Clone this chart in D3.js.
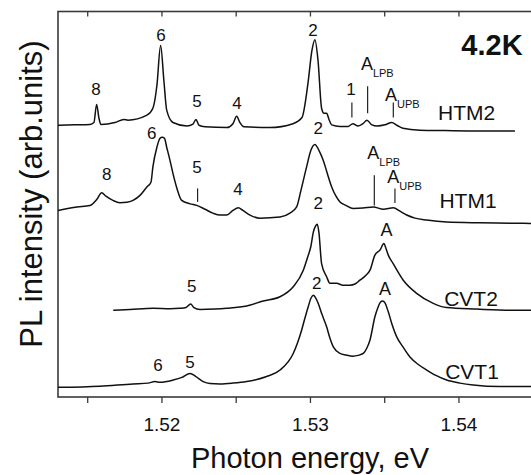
<!DOCTYPE html>
<html>
<head>
<meta charset="utf-8">
<script src="https://cdn.jsdelivr.net/npm/d3@7"></script>
<style>
  body { margin: 0; background: #fff; }
  text { font-family: "Liberation Sans", Arial, sans-serif; fill: #111; }
</style>
</head>
<body>
<div id="vis"></div>
<script>
// spectra: [photon energy (eV), PL intensity (arb. units, offset included)]
var htm2 = [
  [1.51300, 70.5], [1.51414, 70.6], [1.51515, 70.7], [1.51542, 71.2], [1.51560, 75.9],
  [1.51576, 72.3], [1.51589, 70.7], [1.51683, 71.2], [1.51744, 72.0], [1.51771, 71.8],
  [1.51899, 73.1], [1.51939, 74.9], [1.51966, 80.8], [1.51991, 91.2], [1.52013, 82.1],
  [1.52032, 74.4], [1.52074, 71.2], [1.52168, 70.3], [1.52209, 70.8], [1.52229, 72.0],
  [1.52249, 70.5], [1.52290, 70.1], [1.52438, 69.9], [1.52478, 70.9], [1.52503, 72.8],
  [1.52525, 71.2], [1.52552, 70.1], [1.52727, 69.9], [1.52882, 70.9], [1.52943, 72.5],
  [1.52983, 81.3], [1.53010, 89.9], [1.53030, 92.7], [1.53051, 87.3], [1.53075, 74.9],
  [1.53091, 73.6], [1.53109, 73.6], [1.53125, 72.0], [1.53143, 70.6], [1.53199, 70.2],
  [1.53253, 70.2], [1.53286, 70.9], [1.53320, 70.3], [1.53354, 70.9], [1.53380, 71.8],
  [1.53414, 70.6], [1.53448, 70.3], [1.53502, 70.6], [1.53547, 71.2], [1.53582, 70.5],
  [1.53623, 69.7], [1.53737, 69.2], [1.53906, 69.1], [1.54141, 69.0], [1.54377, 69.0]
];
var htm1 = [
  [1.51300, 48.4], [1.51428, 49.3], [1.51515, 49.7], [1.51562, 51.3], [1.51594, 53.0],
  [1.51623, 52.1], [1.51670, 51.0], [1.51717, 50.4], [1.51764, 50.5], [1.51805, 51.0],
  [1.51852, 52.3], [1.51899, 54.5], [1.51926, 55.7], [1.51939, 59.7], [1.51966, 64.8],
  [1.51987, 67.1], [1.52002, 67.4], [1.52017, 67.1], [1.52032, 64.8], [1.52054, 61.4],
  [1.52074, 58.0], [1.52101, 54.1], [1.52133, 51.0], [1.52189, 50.1], [1.52234, 49.7],
  [1.52290, 48.7], [1.52343, 47.7], [1.52391, 47.2], [1.52436, 47.2], [1.52478, 48.4],
  [1.52514, 49.1], [1.52545, 48.4], [1.52593, 47.2], [1.52660, 46.4], [1.52795, 46.7],
  [1.52862, 47.7], [1.52907, 49.3], [1.52936, 53.6], [1.52974, 59.7], [1.53003, 64.0],
  [1.53030, 65.5], [1.53057, 64.0], [1.53086, 61.4], [1.53111, 58.3], [1.53143, 54.5],
  [1.53172, 52.1], [1.53199, 50.6], [1.53239, 49.7], [1.53288, 48.9], [1.53354, 49.0],
  [1.53423, 49.3], [1.53491, 48.7], [1.53558, 49.1], [1.53603, 48.2], [1.53648, 47.2],
  [1.53704, 46.4], [1.53783, 45.9], [1.53917, 45.4], [1.54141, 45.2], [1.54343, 45.1],
  [1.54500, 45.0]
];
var cvt2 = [
  [1.51672, 22.5], [1.51785, 22.7], [1.51941, 23.0], [1.52054, 22.9], [1.52121, 23.0],
  [1.52162, 23.2], [1.52193, 24.1], [1.52215, 23.2], [1.52256, 22.7], [1.52357, 22.8],
  [1.52436, 23.0], [1.52570, 23.6], [1.52682, 24.9], [1.52795, 26.0], [1.52884, 28.6],
  [1.52952, 32.9], [1.52983, 36.5], [1.53003, 39.1], [1.53019, 42.7], [1.53034, 44.3],
  [1.53046, 44.8], [1.53057, 42.7], [1.53075, 34.6], [1.53109, 31.2], [1.53131, 29.5],
  [1.53176, 29.5], [1.53219, 29.0], [1.53266, 29.0], [1.53300, 29.3], [1.53333, 30.3],
  [1.53374, 31.6], [1.53401, 32.9], [1.53434, 36.8], [1.53468, 38.1], [1.53495, 39.8],
  [1.53508, 38.6], [1.53524, 36.8], [1.53557, 34.6], [1.53625, 30.3], [1.53715, 26.9],
  [1.53827, 24.3], [1.53917, 23.2], [1.54119, 22.8], [1.54343, 22.5], [1.54500, 22.5]
];
var cvt1 = [
  [1.51300, 2.5], [1.51582, 2.8], [1.51805, 3.4], [1.51906, 3.6], [1.51953, 4.0],
  [1.51987, 3.8], [1.52076, 4.4], [1.52135, 5.1], [1.52189, 6.1], [1.52229, 5.3],
  [1.52278, 4.0], [1.52323, 3.5], [1.52391, 3.4], [1.52478, 3.6], [1.52570, 4.0],
  [1.52705, 5.3], [1.52795, 7.0], [1.52884, 11.3], [1.52941, 17.4], [1.52963, 20.5],
  [1.52985, 23.4], [1.53003, 25.6], [1.53019, 26.4], [1.53037, 25.6], [1.53052, 24.3],
  [1.53077, 21.5], [1.53109, 18.2], [1.53131, 15.3], [1.53154, 13.0], [1.53199, 11.3],
  [1.53239, 10.9], [1.53288, 10.6], [1.53320, 10.8], [1.53356, 11.3], [1.53380, 12.7],
  [1.53401, 14.8], [1.53434, 20.8], [1.53455, 23.3], [1.53471, 24.6], [1.53486, 24.9],
  [1.53502, 24.4], [1.53524, 22.1], [1.53549, 18.9], [1.53581, 15.6], [1.53623, 13.0],
  [1.53670, 10.4], [1.53724, 8.5], [1.53783, 7.0], [1.53845, 5.6], [1.53917, 4.4],
  [1.54007, 3.6], [1.54096, 3.1], [1.54276, 2.7], [1.54500, 2.7]
];

// peak labels: [text, energy, intensity]
var peakLabels = [
  ['8', 1.51556, 80.0], ['6', 1.51993, 94.0], ['5', 1.52236, 76.9], ['4', 1.52505, 76.4],
  ['2', 1.53017, 95.3], ['1', 1.53273, 80.0],
  ['8', 1.51628, 58.0], ['6', 1.51931, 68.4], ['5', 1.52236, 59.7], ['4', 1.52512, 54.1],
  ['2', 1.53053, 69.7],
  ['5', 1.52200, 28.8], ['2', 1.53053, 50.3], ['A', 1.53513, 43.5],
  ['6', 1.51973, 8.3], ['5', 1.52189, 9.1], ['2', 1.53042, 29.5], ['A', 1.53502, 28.2]
];
// polariton labels: [subscript, energy of the "A", intensity]
var polaritonLabels = [
  ['LPB', 1.53380, 86.5], ['UPB', 1.53542, 78.5],
  ['LPB', 1.53423, 63.5], ['UPB', 1.53558, 57.1]
];
// sample names: [name, energy, intensity]
var sampleLabels = [
  ['HTM2', 1.54052, 73.9], ['HTM1', 1.54061, 51.0],
  ['CVT2', 1.54081, 25.6], ['CVT1', 1.54088, 6.6]
];
// marker lines: [energy, intensity from, intensity to]
var markers = [
  [1.53279, 76.4, 72.5], [1.53385, 80.6, 73.6], [1.53558, 76.4, 72.5],
  [1.52240, 54.1, 50.6], [1.53430, 57.5, 49.7], [1.53569, 54.1, 50.3]
];
var majorTicks = [1.52, 1.53, 1.54];
var minorTicks = [1.515, 1.525, 1.535];

var width = 531, height = 475;
var margin = { top: 11.5, left: 58, bottom: 78, right: -2.2 };

var svg = d3.select('#vis').append('svg')
  .attr('width', width)
  .attr('height', height);

var x = d3.scaleLinear()
  .domain([1.513, 1.545])
  .range([margin.left, width - margin.right]);
var y = d3.scaleLinear()
  .domain([0, 100])
  .range([height - margin.bottom, margin.top]);

var x0 = x.range()[0], x1 = x.range()[1];
var yb = y.range()[0], yt = y.range()[1];

// frame
var axisColor = '#3a3a3a';
svg.append('rect')
  .attr('x', x0).attr('y', yt)
  .attr('width', x1 - x0).attr('height', yb - yt)
  .attr('fill', 'none')
  .attr('stroke', axisColor)
  .attr('stroke-width', 1.6);

// ticks: bottom point outward, top point inward
var allTicks = majorTicks.concat(minorTicks);
svg.selectAll('.tick-b')
  .data(allTicks)
  .enter().append('line')
  .attr('x1', function(d) { return x(d); })
  .attr('x2', function(d) { return x(d); })
  .attr('y1', yb).attr('y2', yb + 6)
  .attr('stroke', axisColor).attr('stroke-width', 1.3);
svg.selectAll('.tick-t')
  .data(allTicks)
  .enter().append('line')
  .attr('x1', function(d) { return x(d); })
  .attr('x2', function(d) { return x(d); })
  .attr('y1', yt).attr('y2', yt + 5)
  .attr('stroke', axisColor).attr('stroke-width', 1.3);

svg.selectAll('.tick-label')
  .data(majorTicks)
  .enter().append('text')
  .attr('x', function(d) { return x(d); })
  .attr('y', 431)
  .attr('text-anchor', 'middle')
  .attr('font-size', 19)
  .text(function(d) { return d3.format('.2f')(d); });

// axis titles
svg.append('text')
  .attr('x', 310).attr('y', 468)
  .attr('text-anchor', 'middle')
  .attr('font-size', 29)
  .text('Photon energy, eV');
svg.append('text')
  .attr('transform', 'translate(42,194) rotate(-90)')
  .attr('text-anchor', 'middle')
  .attr('font-size', 31)
  .text('PL intensity (arb.units)');

svg.append('text')
  .attr('x', 492).attr('y', 55)
  .attr('text-anchor', 'middle')
  .attr('font-size', 29)
  .attr('font-weight', 'bold')
  .text('4.2K');

// spectra
var line = d3.line()
  .x(function(d) { return x(d[0]); })
  .y(function(d) { return y(d[1]); })
  .curve(d3.curveMonotoneX);

svg.selectAll('.spectrum')
  .data([htm2, htm1, cvt2, cvt1])
  .enter().append('path')
  .attr('class', 'spectrum')
  .attr('d', line)
  .attr('fill', 'none')
  .attr('stroke', '#111')
  .attr('stroke-width', 1.5)
  .attr('stroke-linejoin', 'round');

// marker lines
svg.selectAll('.marker')
  .data(markers)
  .enter().append('line')
  .attr('x1', function(d) { return x(d[0]); })
  .attr('x2', function(d) { return x(d[0]); })
  .attr('y1', function(d) { return y(d[1]); })
  .attr('y2', function(d) { return y(d[2]); })
  .attr('stroke', '#222').attr('stroke-width', 1.2);

// labels
svg.selectAll('.peak')
  .data(peakLabels)
  .enter().append('text')
  .attr('x', function(d) { return x(d[1]); })
  .attr('y', function(d) { return y(d[2]); })
  .attr('dy', '0.36em')
  .attr('text-anchor', 'middle')
  .attr('font-size', function(d) { return d[0] === 'A' ? 18 : 17; })
  .text(function(d) { return d[0]; });

var pol = svg.selectAll('.pol')
  .data(polaritonLabels)
  .enter().append('text')
  .attr('x', function(d) { return x(d[1]) - 6; })
  .attr('y', function(d) { return y(d[2]); })
  .attr('dy', '0.36em')
  .attr('font-size', 18);
pol.append('tspan').text('A');
pol.append('tspan')
  .attr('font-size', 11)
  .attr('dy', 7)
  .text(function(d) { return d[0]; });

svg.selectAll('.sample')
  .data(sampleLabels)
  .enter().append('text')
  .attr('x', function(d) { return x(d[1]); })
  .attr('y', function(d) { return y(d[2]); })
  .attr('dy', '0.36em')
  .attr('text-anchor', 'middle')
  .attr('font-size', 21)
  .text(function(d) { return d[0]; });
</script>
</body>
</html>
